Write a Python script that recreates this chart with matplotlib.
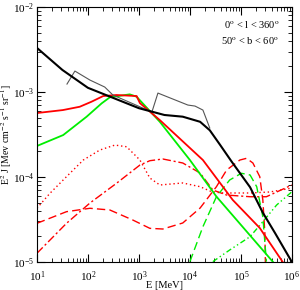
import numpy as np
import matplotlib
matplotlib.use('Agg')
import matplotlib.pyplot as plt

plt.rcParams['font.family'] = ['Liberation Serif', 'DejaVu Serif']
plt.rcParams['mathtext.fontset'] = 'stix'

# curves, as (log10 E, log10 E^2 J)
black_x = [1.0, 1.5, 2.0, 2.5, 3.0, 3.5, 3.86, 4.2, 4.39, 4.59, 4.82, 5.0, 5.18, 5.43, 5.67, 6.0]
black_y = [-2.48, -2.74, -2.95, -3.07, -3.19, -3.27, -3.29, -3.35, -3.45, -3.62, -3.82, -3.97, -4.12, -4.42, -4.66, -5.0]

gray_x = [1.59, 1.745, 2.04, 2.33, 2.49, 3.255, 3.373, 3.96, 4.10, 4.255, 4.39]
gray_y = [-2.906, -2.753, -2.859, -2.941, -3.035, -3.235, -3.012, -3.153, -3.165, -3.212, -3.424]

red_x = [1.0, 1.51, 1.84, 2.07, 2.30, 2.56, 2.955, 3.02, 3.41, 4.255, 4.84, 5.37, 5.82]
red_y = [-3.247, -3.212, -3.173, -3.114, -3.047, -3.035, -3.047, -3.13, -3.33, -3.80, -4.27, -4.60, -5.0]

green_x = [1.0, 1.516, 1.975, 2.27, 2.43, 2.82, 2.955, 3.41, 4.0, 4.52, 5.63]
green_y = [-3.635, -3.506, -3.29, -3.133, -3.062, -3.027, -3.055, -3.35, -3.80, -4.23, -5.0]

rdot_x = [1.0, 1.255, 1.58, 1.91, 2.235, 2.53, 2.76, 3.02, 3.215, 3.41, 3.86, 4.2, 4.425, 4.65, 5.18, 5.57, 6.0]
rdot_y = [-4.368, -4.192, -3.996, -3.80, -3.682, -3.624, -3.644, -3.80, -4.012, -4.094, -4.07, -4.114, -4.173, -4.188, -4.188, -4.176, -4.13]

rdash_x = [1.0, 1.58, 2.04, 2.43, 2.88, 3.215, 3.47, 3.86, 4.2, 4.52, 4.72, 4.98, 5.11, 5.235, 5.37, 5.43, 5.47, 5.48]
rdash_y = [-4.545, -4.408, -4.368, -4.388, -4.506, -4.604, -4.612, -4.541, -4.365, -4.114, -3.918, -3.80, -3.78, -3.835, -3.996, -4.27, -4.66, -5.0]

rdd_x = [1.0, 1.58, 2.04, 2.56, 3.02, 3.215, 3.47, 3.86, 4.2, 4.45, 4.72, 5.18, 5.5, 6.0]
rdd_y = [-4.898, -4.545, -4.306, -4.074, -3.859, -3.808, -3.788, -3.835, -3.953, -4.153, -4.212, -4.232, -4.232, -4.094]

gdash_x = [4.0, 4.255, 4.52, 4.78, 5.01, 5.18, 5.31, 5.43, 5.50]
gdash_y = [-4.996, -4.585, -4.232, -4.035, -3.956, -3.976, -4.114, -4.467, -4.996]

gdd_x = [4.45, 4.78, 5.18, 5.43, 5.70, 6.0]
gdd_y = [-4.996, -4.859, -4.702, -4.526, -4.33, -4.173]

fig = plt.figure(figsize=(3.0, 2.9), dpi=100)
ax = fig.add_axes([0.123, 0.0966, 0.85, 0.879])

def p(xs, ys, **kw):
    ax.plot(10**np.array(xs), 10**np.array(ys), **kw)

p(rdot_x, rdot_y, color='red', lw=1.0, ls=(0, (1, 2)))
p(rdash_x, rdash_y, color='red', lw=1.0, ls=(0, (6, 3)))
p(rdd_x, rdd_y, color='red', lw=1.0, ls=(0, (6, 2, 1.5, 2)))
p(gdash_x, gdash_y, color='#00ee00', lw=1.0, ls=(0, (6, 3)))
p(gdd_x, gdd_y, color='#00ee00', lw=1.0, ls=(0, (4, 2, 1, 2, 1, 2)))
p(green_x, green_y, color='#00ee00', lw=1.3)
p(red_x, red_y, color='red', lw=1.3)
p(gray_x, gray_y, color='#555555', lw=0.8)
p(black_x, black_y, color='black', lw=1.5)

ax.set_xscale('log')
ax.set_yscale('log')
ax.set_xlim(1e1, 1e6)
ax.set_ylim(1e-5, 1e-2)
ax.tick_params(which='both', direction='in', top=True, right=True, labelsize=8, pad=2)
ax.tick_params(axis='x', pad=5)
ax.tick_params(which='major', length=6)
ax.tick_params(which='minor', length=3)
ax.set_xlabel('E [MeV]', fontsize=7.5)
ax.set_ylabel(r'E$^2$ J [Mev cm$^{-2}$ s$^{-1}$ sr$^{-1}$]', fontsize=7)
ax.xaxis.set_label_coords(0.5, -0.075)
ax.yaxis.set_label_coords(-0.088, 0.5)

ax.text(0.95, 0.93, r'0$^{\rm o}$ < l < 360$^{\rm o}$', transform=ax.transAxes, ha='right', va='center', fontsize=7.5)
ax.text(0.95, 0.865, r'50$^{\rm o}$ < b < 60$^{\rm o}$', transform=ax.transAxes, ha='right', va='center', fontsize=7.5)

fig.savefig('out.png', dpi=100)
